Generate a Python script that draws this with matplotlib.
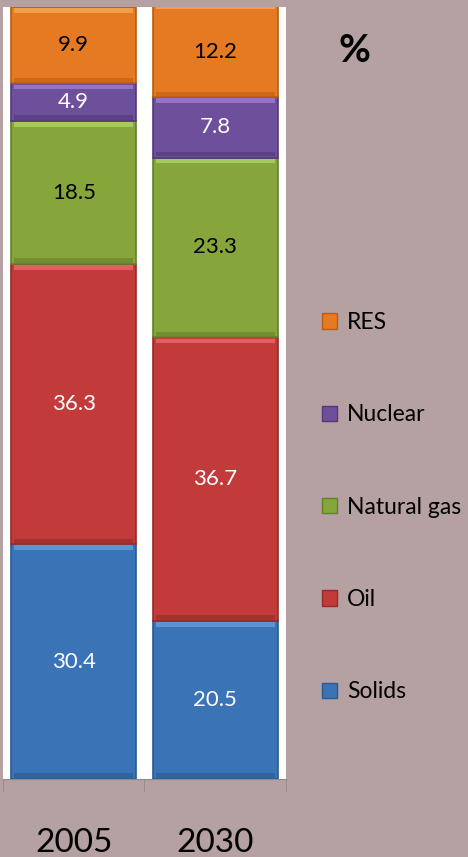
import matplotlib
matplotlib.use("Agg")
import matplotlib.pyplot as plt
import numpy as np
from matplotlib.patches import Patch

# data
years = ["2005", "2030"]
sources = ["Solids", "Oil", "Natural gas", "Nuclear", "RES"]
solids = [30.4, 20.5]
oil = [36.3, 36.7]
gas = [18.5, 23.3]
nuclear = [4.9, 7.8]
res = [9.9, 12.2]

colors = ["#3a73b6", "#c23a3a", "#86a63c", "#6e4f9c", "#e57a22"]
light_colors = ["#6fa3e0", "#ee7070", "#b4d86a", "#a486d4", "#f8b060"]
edge_colors = ["#2a5a92", "#962a2a", "#63812a", "#52397a", "#b85e14"]
text_colors = ["white", "white", "black", "white", "black"]
bg = "#b5a0a2"

plt.rcParams['font.family'] = ['Lato', 'DejaVu Sans']

fig = plt.figure(figsize=(4.68, 8.57), dpi=100, facecolor=bg)
ax = fig.add_axes([3/468, 78/857, 283/468, 772/857])
ax.set_facecolor("white")

ind = np.arange(len(years))
bottom = np.zeros(len(years))
for vals, name, c, lc, ec, tc in zip([solids, oil, gas, nuclear, res], sources, colors,
                                     light_colors, edge_colors, text_colors):
    vals = np.array(vals)
    ax.bar(ind, vals, width=0.88, bottom=bottom, color=c, edgecolor=ec, linewidth=1.2, label=name)
    # bevel: light strip on top, dark strip at bottom of each block
    ax.bar(ind, 0.6, width=0.84, bottom=bottom + vals - 0.75, color=lc, alpha=0.7, linewidth=0)
    ax.bar(ind, 0.6, width=0.84, bottom=bottom + 0.15, color=ec, alpha=0.6, linewidth=0)
    for i in ind:
        top = min(bottom[i] + vals[i], 100)
        ax.text(i, (bottom[i] + top) / 2, f"{vals[i]:.1f}", ha="center", va="center",
                color=tc, fontsize=16)
    bottom += vals

ax.set_ylim(0, 100)
ax.set_xlim(-0.5, 1.5)
ax.set_yticks([])
for s in ["top", "right", "left"]:
    ax.spines[s].set_visible(False)
ax.spines["bottom"].set_color("#8c8c8c")
ax.set_xticks(ind)
ax.set_xticklabels(years, fontsize=24)
ax.tick_params(axis="x", which="major", length=0, pad=35)
ax.set_xticks([-0.5, 0.5, 1.5], minor=True)
ax.tick_params(axis="x", which="minor", length=9, color="#8c8c8c")

handles = [Patch(facecolor=c, edgecolor=ec) for c, ec in zip(colors, edge_colors)][::-1]
fig.legend(handles, sources[::-1], loc="upper left", bbox_to_anchor=(313/468, 1 - 303/857),
           frameon=False, fontsize=16.5, labelspacing=3.11, handlelength=0.65, handleheight=0.65,
           handletextpad=0.44, borderaxespad=0)

fig.text(338/468, 1 - 51/857, "%", fontsize=28, fontweight="bold", va="center")

fig.savefig("out.png", dpi=100, facecolor=bg)
